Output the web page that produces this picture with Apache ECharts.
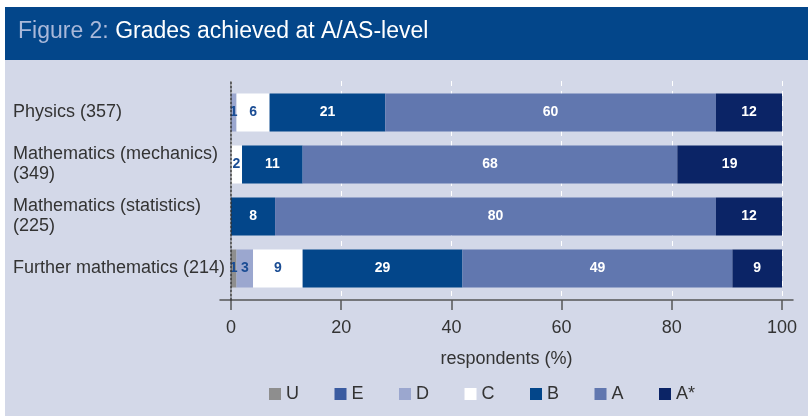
<!DOCTYPE html>
<html><head><meta charset="utf-8">
<script src="https://cdn.jsdelivr.net/npm/echarts@6/dist/echarts.min.js"></script>
<style>
html,body{margin:0;padding:0;background:#fff}
#wrap{position:relative;width:808px;height:416px;background:#fff;overflow:hidden}
#band{position:absolute;left:5px;top:7px;width:803px;height:53px;background:#03468a}
#panel{position:absolute;left:5px;top:60px;width:803px;height:356px;background:#d3d8e8}
#c{position:absolute;left:0;top:0;width:808px;height:416px}
</style>
</head><body>
<div id="wrap"><div id="band"></div><div id="panel"></div><div id="c"></div></div>
<script>
const categories = ['Physics (357)', 'Mathematics (mechanics)\n(349)', 'Mathematics (statistics)\n(225)', 'Further mathematics (214)'];
const grades = ['U', 'E', 'D', 'C', 'B', 'A', 'A*'];
const U = [null, null, null, 1];
const E = [null, null, null, null];
const D = [1, null, null, 3];
const C = [6, 2, null, 9];
const B = [21, 11, 8, 29];
const A = [60, 68, 80, 49];
const Astar = [12, 19, 12, 9];
const xMin = 0, xMax = 100, xStep = 20;

const FONT = '"Liberation Sans", Arial, sans-serif';
const colors = {U:'#8e8e8e', E:'#3a5ba0', D:'#9ba7cf', C:'#ffffff', B:'#03468a', A:'#6177af', 'A*':'#0b2466'};
const darkLabel = ['U', 'E', 'D', 'C'];
const seriesData = {U: U, E: E, D: D, C: C, B: B, A: A, 'A*': Astar};

const series = grades.map(g => ({
  name: g, type: 'bar', stack: 'total', xAxisIndex: 0, yAxisIndex: 0, barWidth: 38,
  data: seriesData[g],
  itemStyle: {color: colors[g]},
  label: {
    show: true, position: 'inside',
    formatter: p => (p.value == null ? '' : String(p.value)),
    color: darkLabel.includes(g) ? '#1b4d94' : '#ffffff',
    fontWeight: 'bold', fontSize: 14, fontFamily: FONT
  },
  emphasis: {disabled: true}
}));

const chart = echarts.init(document.getElementById('c'), null, {renderer: 'canvas'});
chart.setOption({
  animation: false,
  textStyle: {fontFamily: FONT},
  title: {
    text: '{a|Figure 2:} {b|Grades achieved at A/AS-level}',
    left: 13, top: 15,
    textStyle: {
      fontSize: 23, fontWeight: 'normal', fontFamily: FONT,
      rich: {
        a: {color: '#a9b8d9', fontSize: 23, fontFamily: FONT},
        b: {color: '#ffffff', fontSize: 23, fontFamily: FONT}
      }
    }
  },
  legend: {
    data: grades, left: 264, top: 380, icon: 'rect',
    itemWidth: 12, itemHeight: 12, itemGap: 35.5,
    textStyle: {fontSize: 18, color: '#333', width: 20, fontFamily: FONT},
    selectedMode: false
  },
  grid: [
    {left: 231, right: 26, top: 86.5, height: 208},
    {left: 231, right: 26, top: 81, height: 219},
    {left: 220, right: 15, top: 81, height: 219}
  ],
  xAxis: [
    {gridIndex: 0, type: 'value', min: xMin, max: xMax, show: false},
    {
      gridIndex: 1, type: 'value', min: xMin, max: xMax, interval: xStep,
      axisLine: {show: false},
      axisTick: {show: true, length: 10, lineStyle: {color: '#555', width: 1.5}},
      axisLabel: {fontSize: 18, color: '#333', margin: 19, fontFamily: FONT},
      splitLine: {show: true, lineStyle: {color: '#ffffff', type: [5, 5], width: 1}},
      name: 'respondents (%)', nameLocation: 'middle', nameGap: 50,
      nameTextStyle: {fontSize: 18, color: '#333', fontFamily: FONT}
    },
    {
      gridIndex: 2, type: 'value', min: 0, max: 1, position: 'bottom',
      axisLine: {show: true, onZero: false, lineStyle: {color: '#555', width: 1.5}},
      axisTick: {show: false}, axisLabel: {show: false}, splitLine: {show: false}
    }
  ],
  yAxis: [
    {
      gridIndex: 0, type: 'category', data: categories, inverse: true,
      axisLine: {show: false}, axisTick: {show: false},
      axisLabel: {align: 'left', margin: 218, fontSize: 18, color: '#333', lineHeight: 20, fontFamily: FONT}
    },
    {
      gridIndex: 1, type: 'value', min: 0, max: 1, z: 5,
      axisLine: {show: true, onZero: false, lineStyle: {color: '#333', type: [2, 2], width: 1.5}},
      axisTick: {show: false}, axisLabel: {show: false}, splitLine: {show: false}
    },
    {gridIndex: 2, type: 'value', min: 0, max: 1, show: false}
  ],
  series: series
});
</script>
</body></html>
